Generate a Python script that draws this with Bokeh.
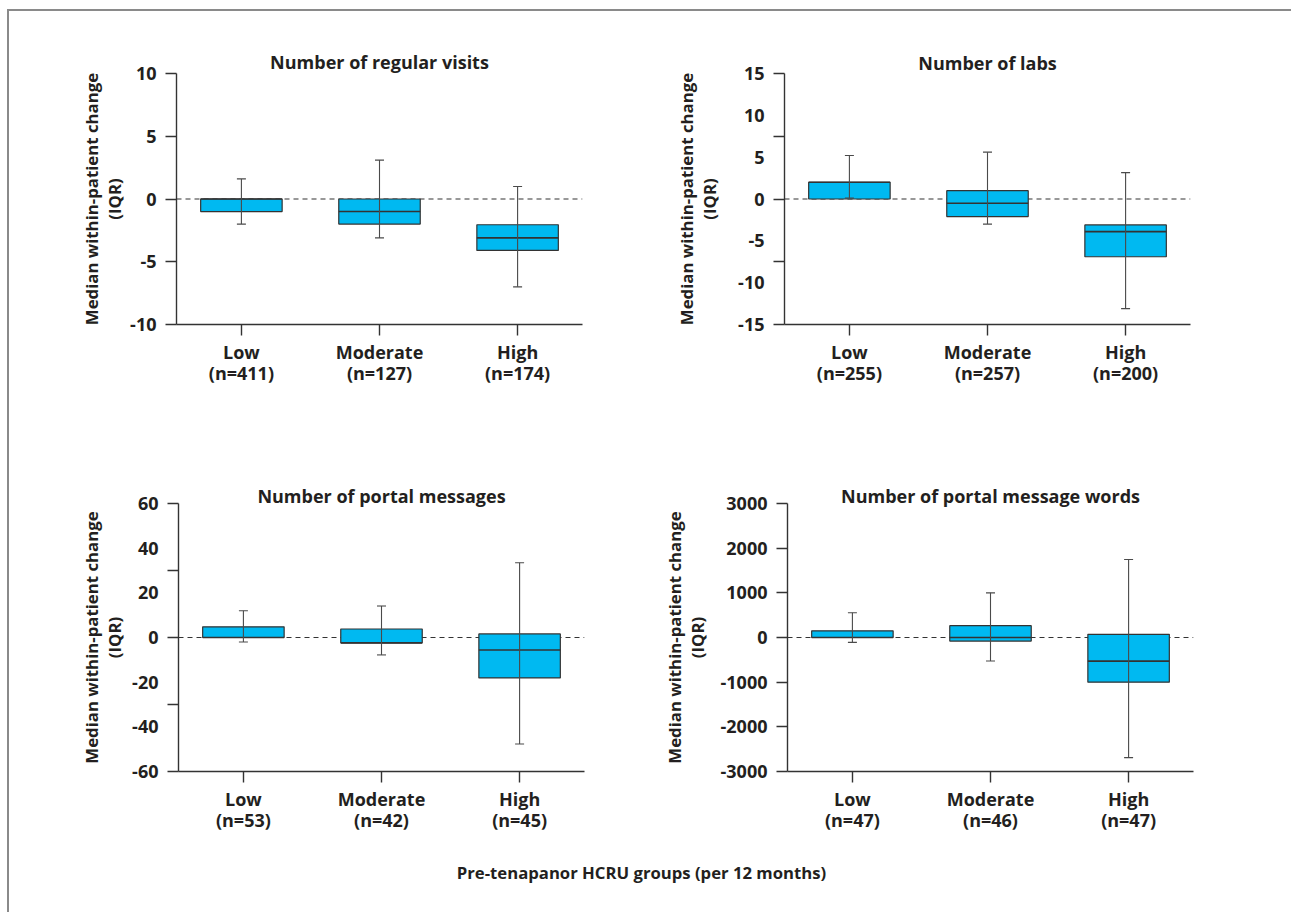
from bokeh.plotting import figure
from bokeh.models import (Range1d, FixedTicker, Span, Whisker, TeeHead, ColumnDataSource,
                          Label, LinearAxis)
from bokeh.layouts import column, row
from bokeh.embed import file_html
from bokeh.resources import INLINE

# ---------------- data ----------------
groups = ["Low", "Moderate", "High"]
group_pos = [0, 1, 2]

visits_n = [411, 127, 174]
visits_q1 = [-1.0, -2.0, -4.1]
visits_med = [0.0, -1.0, -3.1]
visits_q3 = [0.0, 0.0, -2.05]
visits_lo = [-2.0, -3.1, -7.0]
visits_hi = [1.6, 3.1, 1.0]

labs_n = [255, 257, 200]
labs_q1 = [0.0, -2.1, -6.9]
labs_med = [2.0, -0.5, -3.9]
labs_q3 = [2.0, 1.0, -3.1]
labs_lo = [0.1, -3.0, -13.1]
labs_hi = [5.2, 5.6, 3.15]

msgs_n = [53, 42, 45]
msgs_q1 = [0.0, -2.4, -18.1]
msgs_med = [0.0, -2.4, -5.6]
msgs_q3 = [4.8, 3.8, 1.6]
msgs_lo = [-2.0, -7.8, -47.7]
msgs_hi = [12.0, 14.1, 33.5]

words_n = [47, 46, 47]
words_q1 = [0, -80, -1000]
words_med = [0, 0, -530]
words_q3 = [150, 265, 70]
words_lo = [-110, -525, -2690]
words_hi = [555, 1000, 1745]

titles = ["Number of regular visits", "Number of labs",
          "Number of portal messages", "Number of portal message words"]
y_label = "Median within-patient change\n(IQR)"
x_label = "Pre-tenapanor HCRU groups (per 12 months)"

# ---------------- style ----------------
FONT = "Open Sans"
TXT = "#231F20"
AX = "#333333"
BOX_FILL = "#00B9F1"
BOX_W = 0.59
FS = "18px"


def style_text(obj, prefix, size):
    setattr(obj, prefix + "_text_font", FONT)
    setattr(obj, prefix + "_text_font_style", "bold")
    setattr(obj, prefix + "_text_font_size", size)
    setattr(obj, prefix + "_text_color", TXT)


def panel(title, n, q1, med, q3, lo, hi, yr, tick_marks, tick_labels,
          width, height, bl, bt, br, bb, standoff, title_standoff):
    p = figure(width=width, height=height, output_backend="svg", toolbar_location=None,
               x_range=Range1d(-0.47, 2.47), y_range=Range1d(*yr),
               min_border_left=bl, min_border_top=bt, min_border_right=br, min_border_bottom=bb)
    p.outline_line_color = None
    p.grid.visible = False

    p.title.text = title
    p.title.align = "center"
    p.title.text_font = FONT
    p.title.text_font_style = "bold"
    p.title.text_font_size = FS
    p.title.text_color = TXT
    p.title.standoff = title_standoff

    p.add_layout(Span(location=0, dimension="width", line_color=AX, line_width=1.2,
                      line_dash="5 4", level="underlay"))

    src = ColumnDataSource(dict(x=group_pos, q1=q1, q3=q3, med=med, lo=lo, hi=hi,
                                mx0=[g - BOX_W / 2 for g in group_pos],
                                mx1=[g + BOX_W / 2 for g in group_pos]))
    p.vbar(x="x", top="q3", bottom="q1", width=BOX_W, source=src,
           fill_color=BOX_FILL, line_color=AX, line_width=1.2)
    p.segment(x0="mx0", x1="mx1", y0="med", y1="med", source=src,
              line_color=AX, line_width=1.6)
    w = Whisker(base="x", lower="lo", upper="hi", source=src, level="overlay",
                line_color="#4a4a4a", line_width=1.1,
                upper_head=TeeHead(size=9, line_color="#4a4a4a", line_width=1.1),
                lower_head=TeeHead(size=9, line_color="#4a4a4a", line_width=1.1))
    p.add_layout(w)

    # x axis: group names
    xa = p.xaxis[0]
    xa.ticker = FixedTicker(ticks=group_pos)
    xa.major_label_overrides = {g: name for g, name in zip(group_pos, groups)}
    style_text(xa, "major_label", FS)
    xa.major_label_standoff = 4
    xa.axis_line_color = AX
    xa.axis_line_width = 1.4
    xa.major_tick_line_color = AX
    xa.major_tick_line_width = 1.4
    xa.major_tick_out = 11
    xa.major_tick_in = 0
    xa.minor_tick_line_color = None

    # second x axis: group sizes
    xn = LinearAxis(ticker=FixedTicker(ticks=group_pos),
                    major_label_overrides={g: f"(n={k})" for g, k in zip(group_pos, n)},
                    axis_line_color=None, major_tick_line_color=None,
                    minor_tick_line_color=None, major_tick_out=0, major_tick_in=0,
                    major_label_standoff=-6)
    style_text(xn, "major_label", FS)
    p.add_layout(xn, "below")

    # y axis
    ya = p.yaxis[0]
    ya.ticker = FixedTicker(ticks=tick_labels, minor_ticks=tick_marks)
    ya.major_label_overrides = {v: str(v) for v in tick_labels}
    ya.major_tick_line_alpha = 0
    ya.major_tick_out = 11
    ya.major_tick_in = 0
    ya.minor_tick_line_color = AX
    ya.minor_tick_line_width = 1.4
    ya.minor_tick_out = 11
    ya.minor_tick_in = 0
    ya.axis_line_color = AX
    ya.axis_line_width = 1.4
    style_text(ya, "major_label", FS)
    ya.major_label_standoff = 9
    ya.axis_label = y_label
    style_text(ya, "axis_label", "16.8px")
    ya.axis_label_text_line_height = 1.0
    ya.axis_label_standoff = standoff
    return p


p1 = panel(titles[0], visits_n, visits_q1, visits_med, visits_q3, visits_lo, visits_hi,
           (-10, 10), [10, 5, 0, -5, -10], [10, 5, 0, -5, -10],
           631, 430, 167, 62, 58, 117, 1, 0)
p2 = panel(titles[1], labs_n, labs_q1, labs_med, labs_q3, labs_lo, labs_hi,
           (-15, 15), [15, 7.5, 0, -7.5, -15], [15, 10, 5, 0, -5, -10, -15],
           651, 430, 144, 62, 101, 117, 14, -2)
p3 = panel(titles[2], msgs_n, msgs_q1, msgs_med, msgs_q3, msgs_lo, msgs_hi,
           (-60, 60), [60, 30, 0, -30, -60], [60, 40, 20, 0, -20, -40, -60],
           631, 410, 169, 60, 56, 80, 3, -8)
p4 = panel(titles[3], words_n, words_q1, words_med, words_q3, words_lo, words_hi,
           (-3000, 3000), [3000, 2000, 1000, 0, -1000, -2000, -3000],
           [3000, 2000, 1000, 0, -1000, -2000, -3000],
           651, 410, 147, 62, 98, 80, 9, -8)

pb = figure(width=1282, height=61, output_backend="svg", toolbar_location=None,
            x_range=Range1d(0, 1), y_range=Range1d(0, 1),
            x_axis_location=None, y_axis_location=None,
            min_border_left=0, min_border_right=0, min_border_top=0, min_border_bottom=0)
pb.outline_line_color = None
pb.grid.visible = False
pb.add_layout(Label(x=632, y=40, x_units="screen", y_units="screen", text=x_label,
                    text_align="center", text_baseline="middle", text_font=FONT,
                    text_font_style="bold", text_font_size="16.7px", text_color=TXT))

layout = column(row(p1, p2), row(p3, p4), pb,
                styles={"border-top": "2px solid #8a8a8a", "border-left": "2px solid #8a8a8a",
                        "margin-left": "7px", "margin-top": "9px",
                        "box-sizing": "content-box", "overflow": "visible"})

open("out.html", "w").write(file_html(layout, INLINE))
